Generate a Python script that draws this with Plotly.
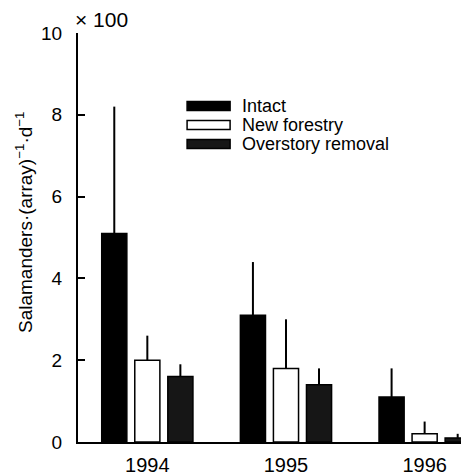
import plotly.graph_objects as go

years = ["1994", "1995", "1996"]
series_names = ["Intact", "New forestry", "Overstory removal"]
intact = [5.1, 3.1, 1.1]
intact_err = [3.1, 1.3, 0.7]
new_forestry = [2.0, 1.8, 0.2]
new_forestry_err = [0.6, 1.2, 0.3]
overstory = [1.6, 1.4, 0.1]
overstory_err = [0.3, 0.4, 0.1]
y_ticks = [0, 2, 4, 6, 8, 10]

fills = ["#000000", "#ffffff", "#161616"]
values = [intact, new_forestry, overstory]
errs = [intact_err, new_forestry_err, overstory_err]

FONT = "Liberation Sans, Arial, sans-serif"
fig = go.Figure()
for name, v, e, c in zip(series_names, values, errs, fills):
    fig.add_trace(go.Bar(
        name=name, x=years, y=v, showlegend=False,
        marker=dict(color=c, line=dict(color="black", width=1.5)),
        error_y=dict(type="data", symmetric=False, array=e,
                     arrayminus=[0] * len(e), width=0, thickness=2, color="black"),
    ))

# page body adds an 8px margin, so the figure is sized to fit the window
fig.update_layout(
    width=461, height=467,
    margin=dict(l=70, r=0, t=25, b=33, autoexpand=False),
    paper_bgcolor="white", plot_bgcolor="white",
    barmode="group", bargap=0.285, bargroupgap=0.24,
    font=dict(family=FONT, size=18, color="black"),
    showlegend=False,
    xaxis=dict(range=[-0.5, 2.32], showline=True, linecolor="black", linewidth=2,
               ticks="", showgrid=False, zeroline=False, tickfont=dict(size=20),
               ticklabelstandoff=4, automargin=False),
    yaxis=dict(range=[0, 10], tickvals=y_ticks, ticktext=[str(t) for t in y_ticks],
               showline=True, linecolor="black", linewidth=2,
               ticks="inside", ticklen=7, tickwidth=2, tickcolor="black",
               showgrid=False, zeroline=False, tickfont=dict(size=19),
               ticklabelstandoff=10, automargin=False),
)

# y-axis title
fig.add_annotation(xref="paper", yref="paper", x=-0.138, y=0.5355, xanchor="center",
                   yanchor="middle", textangle=-90, showarrow=False,
                   text="Salamanders·(array)<sup>−1</sup>·d<sup>−1</sup>",
                   font=dict(size=19, family=FONT))
# scale factor
fig.add_annotation(xref="paper", yref="paper", x=-0.012, y=1.0, yanchor="bottom",
                   xanchor="left", text="× 100", showarrow=False, yshift=0,
                   font=dict(size=21, family=FONT))

# legend drawn as key boxes + labels
leg_x0, leg_x1 = 0.279, 0.389
leg_rows = [0.8215, 0.775, 0.7286]
for name, c, yy in zip(series_names, fills, leg_rows):
    fig.add_shape(type="rect", xref="paper", yref="paper",
                  x0=leg_x0, x1=leg_x1, y0=yy - 0.011, y1=yy + 0.011,
                  fillcolor=c, line=dict(color="black", width=1.5))
    fig.add_annotation(xref="paper", yref="paper", x=0.414, y=yy,
                       xanchor="left", yanchor="middle", text=name, showarrow=False,
                       font=dict(size=18, family=FONT))

fig.write_html("out.html")
